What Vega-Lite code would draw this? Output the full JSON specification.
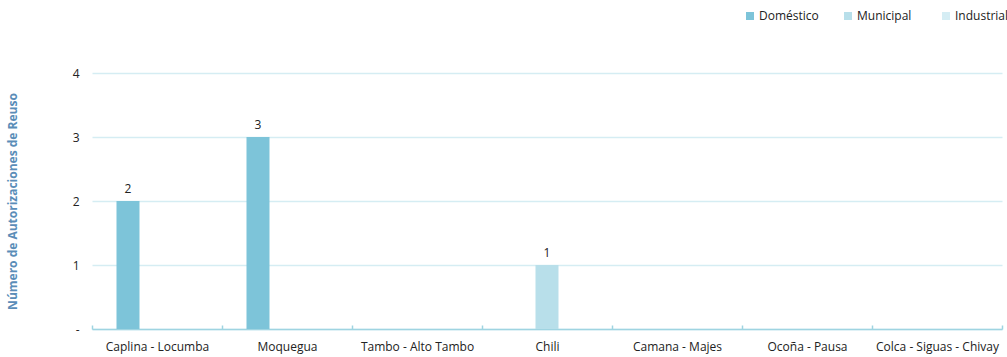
{
  "$schema": "https://vega.github.io/schema/vega-lite/v6.json",
  "autosize": {"type": "none"},
  "width": 910,
  "height": 256,
  "padding": {"left": 92, "top": 73, "right": 5, "bottom": 28},
  "background": "white",
  "config": {
    "font": "Open Sans",
    "view": {"stroke": null}
  },
  "data": {
    "values": [
      {"cuenca": "Caplina - Locumba", "tipo": "Doméstico", "n": 2},
      {"cuenca": "Moquegua", "tipo": "Doméstico", "n": 3},
      {"cuenca": "Chili", "tipo": "Municipal", "n": 1}
    ]
  },
  "encoding": {
    "x": {
      "field": "cuenca",
      "type": "nominal",
      "sort": null,
      "scale": {
        "domain": ["Caplina - Locumba", "Moquegua", "Tambo - Alto Tambo", "Chili", "Camana - Majes", "Ocoña - Pausa", "Colca - Siguas - Chivay"],
        "paddingInner": 0,
        "paddingOuter": 0
      },
      "axis": {
        "title": null,
        "labelAngle": 0,
        "labelFontSize": 12,
        "labelColor": "#222222",
        "labelPadding": 16,
        "domainColor": "#9fd4e1",
        "domainWidth": 1.5,
        "tickColor": "#9fd4e1",
        "tickBand": "extent",
        "tickSize": -4,
        "tickWidth": 1.5,
        "grid": false
      }
    },
    "xOffset": {
      "field": "tipo",
      "type": "nominal",
      "scale": {"domain": ["Doméstico", "Municipal", "Industrial"], "paddingInner": 0.207, "paddingOuter": 0.845}
    },
    "y": {
      "field": "n",
      "type": "quantitative",
      "scale": {"domain": [0, 4]},
      "axis": {
        "title": "Número de Autorizaciones de Reuso",
        "titleColor": "#5a8db8",
        "titleFontSize": 12,
        "titleFontWeight": "bold",
        "titlePadding": 53,
        "values": [0, 1, 2, 3, 4],
        "labelExpr": "datum.value == 0 ? '-' : datum.label",
        "labelFontSize": 12,
        "labelColor": "#222222",
        "labelPadding": 13,
        "ticks": false,
        "domain": false,
        "grid": true,
        "gridColor": "#d5edf3",
        "gridWidth": 1.5
      }
    }
  },
  "layer": [
    {
      "mark": {"type": "bar"},
      "encoding": {
        "color": {
          "field": "tipo",
          "type": "nominal",
          "scale": {"domain": ["Doméstico", "Municipal", "Industrial"], "range": ["#7dc4d9", "#b8dfea", "#d5edf4"]},
          "legend": {
            "title": null,
            "orient": "none",
            "direction": "horizontal",
            "legendX": 652,
            "legendY": -63,
            "symbolType": "square",
            "symbolSize": 64,
            "symbolStrokeWidth": 0,
            "labelFontSize": 12,
            "labelColor": "#222222",
            "gridAlign": "all",
            "columnPadding": 23,
            "labelOffset": 3
          }
        }
      }
    },
    {
      "mark": {"type": "text", "dy": -12, "fontSize": 12, "color": "#222222"},
      "encoding": {"text": {"field": "n", "type": "quantitative"}}
    }
  ]
}
